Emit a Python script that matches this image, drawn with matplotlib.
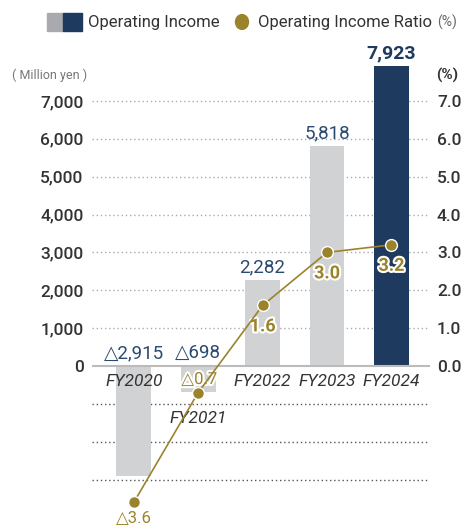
import matplotlib
matplotlib.use("Agg")
import matplotlib.pyplot as plt
import matplotlib.patheffects as pe
from matplotlib.patches import Rectangle, Circle

plt.rcParams['font.family'] = ['Roboto', 'DejaVu Sans']

categories = ['FY2020', 'FY2021', 'FY2022', 'FY2023', 'FY2024']
income = [-2915, -698, 2282, 5818, 7923]
ratio = [-3.6, -0.7, 1.6, 3.0, 3.2]
left_ticks = [0, 1000, 2000, 3000, 4000, 5000, 6000, 7000]
neg_grid = [-1000, -2000, -3000]
right_ticks = [0.0, 1.0, 2.0, 3.0, 4.0, 5.0, 6.0, 7.0]

GRAY = '#d1d2d4'
NAVY = '#1e3a5e'
OLIVE = '#9a842b'
TXT = '#333333'
LBL = '#2b4a70'

W, H = 463, 525
fig = plt.figure(figsize=(W / 100, H / 100), dpi=100)

ax_top_px = 40
ax = fig.add_axes([92 / W, 0, 338 / W, (H - ax_top_px) / H])
scale = 37.86 / 1000.0  # px per unit
ymin = -(H - 366) / scale
ymax = (366 - ax_top_px) / scale
ax.set_ylim(ymin, ymax)
ax.set_xlim(-0.65, 4.6)

x = list(range(len(categories)))
colors = [GRAY] * (len(categories) - 1) + [NAVY]

# gridlines
for t in left_ticks[1:]:
    ax.axhline(t, color='#aaaaaa', lw=1.0, ls=(0, (1, 2)), zorder=0)
for t in neg_grid:
    ax.axhline(t, color='#555555', lw=1.0, ls=(0, (1, 2)), zorder=0)

ax.bar(x, income, width=0.54, color=colors, zorder=2)
ax.axhline(0, color='#bbbbbb', lw=1.5, zorder=3)

for s in ax.spines.values():
    s.set_visible(False)
ax.set_xticks([])
ax.set_yticks(left_ticks)
ax.set_yticklabels([f'{t:,}' for t in left_ticks])
ax.tick_params(axis='y', length=0, pad=6, labelsize=12.5, labelcolor=TXT)
for lab in ax.get_yticklabels():
    lab.set_fontweight('medium')

def fmt_int(v):
    return ('△' if v < 0 else '') + f'{abs(v):,}'

def fmt_pct(v):
    return ('△' if v < 0 else '') + f'{abs(v):.1f}'

# category labels
for i, c in enumerate(categories):
    y = 0
    dy = -15
    if i == 1:
        y = income[i]
        dy = -26
    ax.annotate(c, (i, y), xytext=(0, dy), textcoords='offset pixels',
                ha='center', va='center', fontsize=12.5, style='italic',
                color=TXT, zorder=6)

# value labels
for i, v in enumerate(income):
    if v >= 0:
        big = (i == len(income) - 1)
        ax.annotate(fmt_int(v), (i, v), xytext=(0, 4 if big else 3),
                    textcoords='offset pixels', ha='center', va='bottom',
                    fontsize=14 if big else 13.5,
                    fontweight='bold' if big else 'normal',
                    color=NAVY if big else LBL, zorder=6)
    else:
        ax.annotate(fmt_int(v), (i, 0), xytext=(0, 13),
                    textcoords='offset pixels', ha='center', va='center',
                    fontsize=13.5, color=LBL, zorder=6)

# ratio axis
ax2 = ax.twinx()
ax2.set_ylim(ymin / 1000, ymax / 1000)
for s in ax2.spines.values():
    s.set_visible(False)
ax2.set_yticks(right_ticks)
ax2.set_yticklabels([f'{t:.1f}' for t in right_ticks])
ax2.tick_params(axis='y', length=0, pad=5, labelsize=12.5, labelcolor=TXT)
for lab in ax2.get_yticklabels():
    lab.set_fontweight('medium')

ax2.plot(x, ratio, color=OLIVE, lw=1.2, marker='o', ms=8.5,
         mfc=OLIVE, mec='white', mew=1.0, zorder=5, clip_on=False)

stroke = [pe.withStroke(linewidth=3, foreground='white')]
for i, r in enumerate(ratio):
    if i == 0:
        ax2.annotate(fmt_pct(r), (i, r), xytext=(0, -16), textcoords='offset pixels',
                     ha='center', va='center', fontsize=12, color=OLIVE,
                     annotation_clip=False)
    elif i == 1:
        ax2.annotate(fmt_pct(r), (i, r), xytext=(1, 13), textcoords='offset pixels',
                     ha='center', va='center', fontsize=12, color=OLIVE,
                     path_effects=stroke)
    else:
        ax2.annotate(fmt_pct(r), (i, r), xytext=(0, -21), textcoords='offset pixels',
                     ha='center', va='center', fontsize=13, color=OLIVE,
                     fontweight='bold', path_effects=stroke)

# axis unit labels
fig.text(50 / W, 1 - 75 / H, '( Million yen )', ha='center', va='center',
         fontsize=9, color='#777777')
fig.text(447 / W, 1 - 75 / H, '(%)', ha='center', va='center',
         fontsize=11, color=TXT, fontweight='bold')

# legend
def fy(py):
    return 1 - py / H

fig.add_artist(Rectangle((47 / W, fy(31)), 16 / W, 18 / H, color='#a9aaad',
                         transform=fig.transFigure))
fig.add_artist(Rectangle((63 / W, fy(31)), 19 / W, 18 / H, color=NAVY,
                         transform=fig.transFigure))
fig.text(88 / W, fy(22), 'Operating Income', ha='left', va='center',
         fontsize=12, color=TXT)
fig.add_artist(Circle((242 / W, fy(22)), 6.5 / W, color=OLIVE,
                      transform=fig.transFigure))
fig.text(258 / W, fy(22), 'Operating Income Ratio', ha='left', va='center',
         fontsize=12, color=TXT)
fig.text(437 / W, fy(22), '(%)', ha='left', va='center', fontsize=10,
         color='#666666')

fig.savefig('out.png', dpi=100)
